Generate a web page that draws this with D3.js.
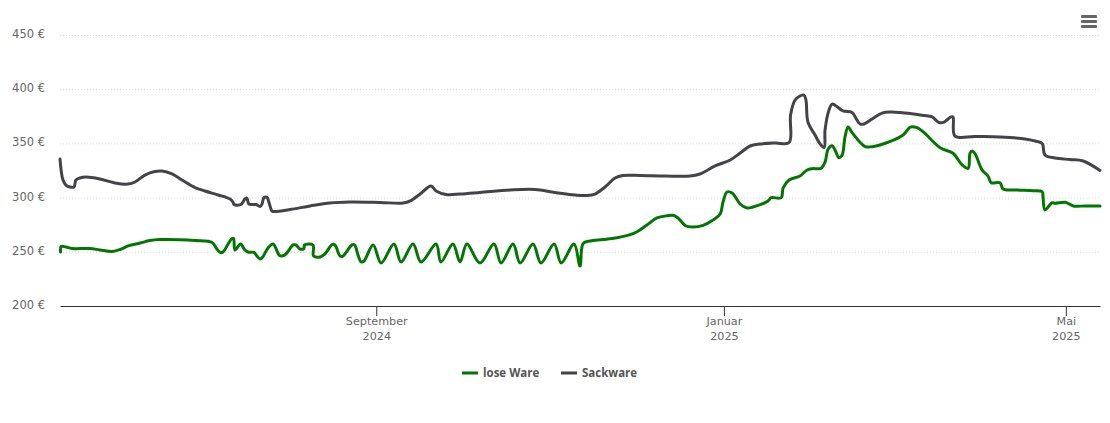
<!DOCTYPE html>
<html>
<head>
<meta charset="utf-8">
<script src="https://d3js.org/d3.v7.min.js"></script>
<style>
html,body{margin:0;padding:0;background:#fff;}
svg{display:block;}
.yaxis .domain{display:none;}
.yaxis line{stroke:#d9d9d9;stroke-dasharray:1,2;}
.yaxis text{fill:#666;font-size:11.5px;font-family:"DejaVu Sans",sans-serif;}
.xaxis .domain,.xaxis line{stroke:#333;}
.xaxis text{fill:#666;font-size:11.2px;font-family:"DejaVu Sans",sans-serif;}
.legend text{fill:#555;font-size:11.5px;font-weight:bold;font-family:"Open Sans",sans-serif;}
</style>
</head>
<body>
<svg id="chart" width="1110" height="423"></svg>
<script>
// days counted from the first day of the chart
var startDate = new Date(2024,4,13)
var endDay = 365

var loseDays = [0.2,0.4,2.1,4.2,10.5,14,18.3,21.1,23.9,28.1,31.6,35.1,42.1,47.4,53.4,54.8,56.2,57.2,59,60.4,60.9,61.4,63.2,63.5,64.9,66,68.1,69.1,70.2,70.9,73,74.8,76.9,77.9,79.3,81.8,82.8,84.2,85.6,85.8,88.8,89,91.3,93,95.5,96.5,98.3,99.3,102.5,103.4,104.6,105.7,106.7,109.9,112.7,117.2,119.7,123.9,126.7,132,133.7,137.9,140.4,142.8,147.4,152.3,154.8,159,161.5,166,168.8,173.4,175.9,180.4,182.5,183.6,186,190.6,195.5,200.1,202.5,206,209.5,213.1,215.2,216.9,219.7,222.2,225.7,229.2,231.7,232.7,234.1,235.9,238.7,241.1,243.2,248.5,249.6,253.1,253.8,255.9,259.7,262.2,264,267.1,268.5,269.6,271,272,273.4,274.5,275.5,276.6,278,282.6,285,287.8,295.9,298.4,300.8,302.9,308.9,313.4,316.6,318.7,319.4,320.1,321.2,323.6,325.7,326.8,329.9,331,335.9,341.5,344.7,345,345.7,348.2,349.2,352.8,355.6,360,365]
var lose = [249.8,254.9,254.4,253,253,251.7,250.3,252.1,255.4,258.1,260.4,261.3,261.2,260.4,258.6,253.5,249.4,249.8,257.2,262.3,262.3,251.7,257.2,257.2,251.7,249.8,249.4,246.1,243.4,244.3,253.5,257.2,247,246.1,248,256.3,256.3,252.6,253,256.3,256.3,246.1,245.2,248,256.7,256.3,246.1,246.1,256.3,256.3,247,240.6,241.5,256.3,239.7,257.2,240.6,257.2,240.6,257.2,240.6,257.2,240.6,257.2,239.7,257.2,239.7,257.2,239.7,257.2,239.7,257.2,239.7,257.2,236.9,257.7,260,261.3,263,265.8,268.5,274.7,281.2,283.3,283.7,281.2,273.8,272.9,274.4,279.3,284.9,295.9,305.2,304.2,294.1,290.4,291.3,296.9,299.9,299.9,308.9,316.2,319.9,325.5,326.7,327,332.8,344.8,347.9,343.9,336.8,339.3,355.9,365.1,359.9,347,347,348.5,357.7,365.1,364.5,360.8,346,340.9,330.1,327,341.1,343,340.2,325.5,319.9,313.7,313.7,307.9,307,306.4,305.4,300.6,288.6,295.3,294.7,295.7,292.3,292.3,292.3]

var sackDays = [0,1.05,2.1,3.5,4.9,5.6,7,9.1,14,19.3,23.9,26.3,29.8,33.3,35.8,39.3,42.8,47.4,50.9,55.5,59.7,60.7,61.1,63.5,64.9,65.6,66.3,68.8,70.2,70.9,71.6,72.7,73.4,74.4,75.1,80.7,87.8,94.8,101.8,112.3,120.4,122.9,126.4,130.2,132,135.5,140.4,147.4,158,166.7,173.7,180.8,185,187.8,191.3,194.8,197.6,203.6,212.4,221.1,224.6,229.9,235.2,238.7,242.2,245.7,251,255.9,256.4,258,259.7,261.1,261.8,262.5,265,266.8,268.2,268.5,269.9,271,272.4,274.8,278,279.7,280.8,282.2,285,288.5,291.3,296.6,301.9,306.1,308.5,310.3,312.7,313.4,314.1,321.2,329.9,338.7,342.2,344.7,345.7,349.2,354.5,359.1,365]
var sack = [335.6,316.2,311.6,309.8,309.8,316.2,318.1,319,317.2,313.5,312.5,314.4,320.8,324.1,324.5,321.8,316.2,309.3,306.1,302.4,298.7,295.9,293.6,293.6,298.7,299.6,294.1,293.6,291.8,294.1,300.1,300.1,295,287.6,287.2,289,292.3,295,295.9,295.5,295,296.9,303.3,310.7,306.1,302.9,303.3,304.7,307,307.5,304.7,302.4,301.9,303.3,309.8,318.1,320.4,320.4,319.9,319.9,321.8,329.2,334.7,341.1,347.6,349.4,350.4,350.8,376.2,390,393.7,394.6,390,369.7,357.7,349.4,346.2,362.4,380.8,386.3,384.5,379.9,378.5,371.6,367.9,367.9,372.5,378,379,378,376.2,374.4,369.3,369.7,374.4,374.4,356.8,356.4,355.9,354.1,352.2,349.9,339.3,336.5,335.1,333.8,325]

var yTicks = [200,250,300,350,400,450]
var xTickDates = [new Date(2024,8,1),new Date(2025,0,1),new Date(2025,4,1)]
var xTickMonths = ["September","Januar","Mai"]
var xTickYears = ["2024","2025","2025"]
var seriesNames = ["lose Ware","Sackware"]
var seriesColors = ["#007800","#434348"]

var dayToDate = function(day)
{
    return new Date(startDate.getTime()+day*86400000)
}

var makePoints = function(days,values)
{
    return days.map(function(day,i)
    {
        return {date:dayToDate(day),value:values[i]}
    })
}

var screen = {width:1110,height:423}
var margins = {top:35,bottom:117,left:60,right:10}
var graph =
{
    width: screen.width-margins.left-margins.right,
    height: screen.height-margins.top-margins.bottom
}

var svg = d3.select("#chart")

var xScale = d3.scaleTime()
    .domain([startDate,dayToDate(endDay)])
    .range([margins.left,margins.left+graph.width])

var yScale = d3.scaleLinear()
    .domain([200,450])
    .range([margins.top+graph.height,margins.top])

// gridlines come from the left axis
var yAxis = d3.axisLeft(yScale)
    .tickValues(yTicks)
    .tickSize(-graph.width)
    .tickPadding(15)
    .tickFormat(function(d){return d+" €"})

var yGroup = svg.append("g")
    .attr("class","yaxis")
    .attr("transform","translate("+margins.left+",0)")
    .call(yAxis)
yGroup.selectAll("text").attr("dy","0.22em")
yGroup.selectAll(".tick").filter(function(d){return d==200}).select("line").remove()

var xAxis = d3.axisBottom(xScale)
    .tickValues(xTickDates)
    .tickSize(10)
    .tickSizeOuter(0)
    .tickFormat(function(d,i){return xTickMonths[i]})

var xGroup = svg.append("g")
    .attr("class","xaxis")
    .attr("transform","translate(0,"+(margins.top+graph.height)+")")
    .call(xAxis)
xGroup.selectAll(".tick text").attr("y",11)
xGroup.selectAll(".tick").append("text")
    .attr("y",26)
    .attr("dy","0.71em")
    .attr("text-anchor","middle")
    .text(function(d,i){return xTickYears[i]})

var lineGenerator = d3.line()
    .x(function(p){return xScale(p.date)})
    .y(function(p){return yScale(p.value)})
    .curve(d3.curveCatmullRom.alpha(0.5))

var allSeries = [makePoints(loseDays,lose),makePoints(sackDays,sack)]

allSeries.forEach(function(points,i)
{
    svg.append("path")
        .datum(points)
        .attr("fill","none")
        .attr("stroke",seriesColors[i])
        .attr("stroke-width",3)
        .attr("stroke-linejoin","round")
        .attr("stroke-linecap","round")
        .attr("d",lineGenerator)
})

// legend
var legendX = [462,561]
var legend = svg.append("g").attr("class","legend")
seriesNames.forEach(function(name,i)
{
    legend.append("line")
        .attr("x1",legendX[i]).attr("x2",legendX[i]+16)
        .attr("y1",373).attr("y2",373)
        .attr("stroke",seriesColors[i])
        .attr("stroke-width",3)
    legend.append("text")
        .attr("x",legendX[i]+21)
        .attr("y",377)
        .text(name)
})

// menu icon
var menuBars = [16,21,26]
svg.append("g").selectAll("rect")
    .data(menuBars)
    .enter()
    .append("rect")
    .attr("x",1081)
    .attr("y",function(d){return d-1})
    .attr("width",16)
    .attr("height",3)
    .attr("rx",1)
    .attr("fill","#666")
</script>
</body>
</html>
